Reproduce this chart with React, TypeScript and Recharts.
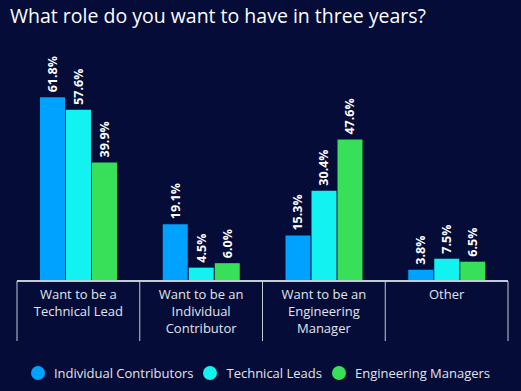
import React from "react";
import { BarChart, Bar, XAxis, YAxis, LabelList } from "recharts";

const categories = [
  "Want to be a\nTechnical Lead",
  "Want to be an\nIndividual\nContributor",
  "Want to be an\nEngineering\nManager",
  "Other",
];
const individualContributors = [61.8, 19.1, 15.3, 3.8];
const technicalLeads = [57.6, 4.5, 30.4, 7.5];
const engineeringManagers = [39.9, 6.0, 47.6, 6.5];

const seriesNames = ["Individual Contributors", "Technical Leads", "Engineering Managers"];
const seriesColors = ["#00a2ff", "#12f2f0", "#38e05a"];

const BG = "#040c37";
const FONT = "'Open Sans', 'Noto Sans', sans-serif";

const data = categories.map((name, i) => ({
  name,
  ic: individualContributors[i],
  tl: technicalLeads[i],
  em: engineeringManagers[i],
}));

const CategoryTick = (props: any) => {
  const { x, y, payload, index, visibleTicksCount } = props;
  const half = payload.offset ?? 61;
  const lines = String(payload.value).split("\n");
  const last = index === (visibleTicksCount ?? categories.length) - 1;
  return (
    <g>
      <line x1={x - half} x2={x - half} y1={y - 8} y2={y + 52} stroke="#c5cad3" strokeWidth={1} />
      {last && (
        <line x1={x + half} x2={x + half} y1={y - 8} y2={y + 52} stroke="#c5cad3" strokeWidth={1} />
      )}
      <text x={x} y={y + 10} textAnchor="middle" fill="#e2e5ec" fontSize={13} fontFamily={FONT}>
        {lines.map((l, i) => (
          <tspan key={i} x={x} dy={i === 0 ? 0 : 17}>
            {l}
          </tspan>
        ))}
      </text>
    </g>
  );
};

const ValueLabel = (props: any) => {
  const { x, y, width, value } = props;
  const cx = x + width / 2;
  const ty = y - 5;
  return (
    <text
      x={cx}
      y={ty}
      dy="0.36em"
      transform={`rotate(-90 ${cx} ${ty})`}
      textAnchor="start"
      fill="#ffffff"
      fontSize={12.5}
      fontWeight={700}
      fontFamily={FONT}
    >
      {`${Number(value).toFixed(1)}%`}
    </text>
  );
};

function Legend() {
  return (
    <div
      style={{
        position: "absolute",
        top: 364,
        left: 0,
        width: 521,
        display: "flex",
        justifyContent: "center",
        alignItems: "center",
        fontFamily: FONT,
        fontSize: 13,
        color: "#e2e5ec",
      }}
    >
      {seriesNames.map((n, i) => (
        <div key={n} style={{ display: "flex", alignItems: "center", marginRight: i < 2 ? 10 : 0 }}>
          <span
            style={{
              width: 14,
              height: 14,
              borderRadius: 7,
              background: seriesColors[i],
              display: "inline-block",
              marginRight: 9,
            }}
          />
          <span>{n}</span>
        </div>
      ))}
    </div>
  );
}

export default function App() {
  return (
    <div
      style={{
        position: "fixed",
        top: 0,
        left: 0,
        width: 521,
        height: 391,
        background: BG,
        overflow: "hidden",
      }}
    >
      <div
        style={{
          position: "absolute",
          top: 2,
          left: 10,
          fontFamily: FONT,
          fontSize: 19.5,
          color: "#ffffff",
          whiteSpace: "nowrap",
        }}
      >
        What role do you want to have in three years?
      </div>
      <BarChart
        width={521}
        height={391}
        data={data}
        margin={{ top: 73, right: 13, left: 17, bottom: 50 }}
        barCategoryGap={23}
        barGap={1}
      >
        <XAxis
          dataKey="name"
          interval={0}
          tickLine={false}
          axisLine={{ stroke: "#c5cad3", strokeWidth: 2 }}
          tick={<CategoryTick />}
          height={60}
        />
        <YAxis hide domain={[0, 70]} />
        <Bar dataKey="ic" fill={seriesColors[0]} isAnimationActive={false}>
          <LabelList dataKey="ic" content={<ValueLabel />} />
        </Bar>
        <Bar dataKey="tl" fill={seriesColors[1]} isAnimationActive={false}>
          <LabelList dataKey="tl" content={<ValueLabel />} />
        </Bar>
        <Bar dataKey="em" fill={seriesColors[2]} isAnimationActive={false}>
          <LabelList dataKey="em" content={<ValueLabel />} />
        </Bar>
      </BarChart>
      <Legend />
    </div>
  );
}
